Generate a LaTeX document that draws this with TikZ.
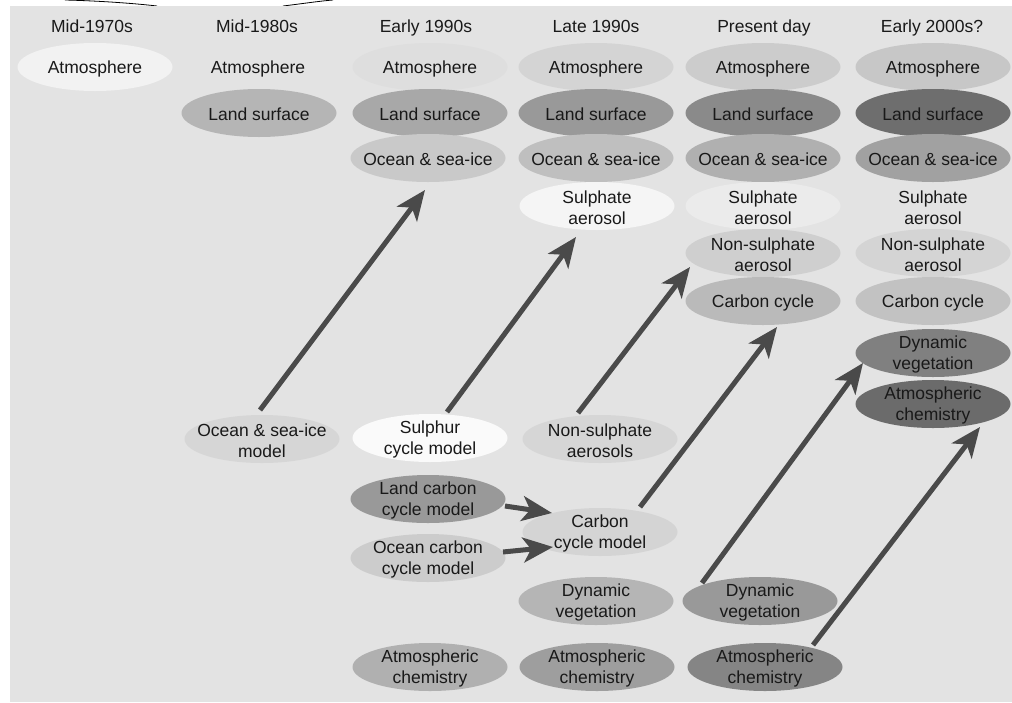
\documentclass[tikz,border=0pt]{standalone}
\usepackage{fontspec}
\setmainfont{Liberation Sans}
\usetikzlibrary{shapes.geometric,arrows.meta}
\definecolor{bg}{HTML}{E3E3E3}
\definecolor{arrcol}{HTML}{4A4A4A}
\newcommand\lblfont{\fontsize{17.5}{20.5}\selectfont}
\tikzset{
  ell/.style={ellipse, minimum width=155pt, minimum height=48pt, inner sep=0pt, label={[lbl]center:#1}},
  lbl/.style={inner sep=0pt, align=center, font=\lblfont, text=black!90, yshift=-1.5pt},
  hdr/.style={inner sep=0pt, font=\lblfont, text=black!90, anchor=base},
  arr/.style={line width=5pt, draw=arrcol, -{Stealth[length=30pt,width=25pt,inset=8pt]}},
}
\begin{document}
\begin{tikzpicture}[x=1pt,y=-1pt]
\useasboundingbox (0,0) rectangle (1012,702);
\fill[white] (0,0) rectangle (1012,702);
\draw[line width=0.8pt] (65,0) .. controls (105,1) and (140,4) .. (157,6);
\draw[line width=0.8pt] (283,6) .. controls (300,4) and (320,1) .. (333,0);
\fill[bg] (10,6) rectangle (1012,702);
% headers
\node[hdr] (h1) at (92,32) {Mid-1970s};
\node[hdr] (h2) at (257,32) {Mid-1980s};
\node[hdr] (h3) at (426,32) {Early 1990s};
\node[hdr] (h4) at (596,32) {Late 1990s};
\node[hdr] (h5) at (764,32) {Present day};
\node[hdr] (h6) at (932,32) {Early 2000s?};
% column 1
\node[ell={Atmosphere}, fill=black!5] (atm1) at (95,67) {};
% column 2
\node[ell={Atmosphere}] (atm2) at (258,67) {};
\node[ell={Land surface}, fill=black!29] (land2) at (259,113) {};
% column 3
\node[ell={Atmosphere}, fill=black!13] (atm3) at (430,67) {};
\node[ell={Land surface}, fill=black!34] (land3) at (430,113) {};
\node[ell={Ocean \& sea-ice}, fill=black!21] (ocean3) at (428,158) {};
% column 4
\node[ell={Atmosphere}, fill=black!17] (atm4) at (596,67) {};
\node[ell={Land surface}, fill=black!40] (land4) at (596,113) {};
\node[ell={Ocean \& sea-ice}, fill=black!25] (ocean4) at (596,158) {};
\node[ell={Sulphate\\aerosol}, fill=black!4] (sulph4) at (597,206) {};
% column 5
\node[ell={Atmosphere}, fill=black!20] (atm5) at (763,67) {};
\node[ell={Land surface}, fill=black!46] (land5) at (763,113) {};
\node[ell={Ocean \& sea-ice}, fill=black!31] (ocean5) at (763,158) {};
\node[ell={Sulphate\\aerosol}, fill=black!8] (sulph5) at (763,206) {};
\node[ell={Non-sulphate\\aerosol}, fill=black!19] (nsa5) at (763,253) {};
\node[ell={Carbon cycle}, fill=black!27] (carb5) at (763,301) {};
% column 6
\node[ell={Atmosphere}, fill=black!22] (atm6) at (933,67) {};
\node[ell={Land surface}, fill=black!57] (land6) at (933,113) {};
\node[ell={Ocean \& sea-ice}, fill=black!37] (ocean6) at (933,158) {};
\node[ell={Sulphate\\aerosol}] (sulph6) at (933,206) {};
\node[ell={Non-sulphate\\aerosol}, fill=black!17] (nsa6) at (933,253) {};
\node[ell={Carbon cycle}, fill=black!24] (carb6) at (933,301) {};
\node[ell={Dynamic\\vegetation}, fill=black!50] (dv6) at (933,353) {};
\node[ell={Atmospheric\\chemistry}, fill=black!58] (ac6) at (933,404) {};
% lower models
\node[ell={Ocean \& sea-ice\\model}, fill=black!16] (osim) at (262,439) {};
\node[ell={Sulphur\\cycle model}, fill=black!2] (sulphur) at (430,438) {};
\node[ell={Non-sulphate\\aerosols}, fill=black!16] (nsa4) at (600,439) {};
\node[ell={Land carbon\\cycle model}, fill=black!40] (lcc) at (428,499) {};
\node[ell={Ocean carbon\\cycle model}, fill=black!20] (occ) at (428,558) {};
\node[ell={Carbon\\cycle model}, fill=black!17] (ccm) at (600,532) {};
\node[ell={Dynamic\\vegetation}, fill=black!29] (dv4) at (596,601) {};
\node[ell={Dynamic\\vegetation}, fill=black!40] (dv5) at (760,601) {};
\node[ell={Atmospheric\\chemistry}, fill=black!31] (ac3) at (430,667) {};
\node[ell={Atmospheric\\chemistry}, fill=black!38] (ac4) at (597,667) {};
\node[ell={Atmospheric\\chemistry}, fill=black!48] (ac5) at (765,667) {};
% arrows
\draw[arr] ([shift={(-2,-29)}]osim.center) -- ([shift={(-3,32)}]ocean3.center);
\draw[arr] ([shift={(17,-26)}]sulphur.center) -- ([shift={(-21,31)}]sulph4.center);
\draw[arr] ([shift={(-22,-26)}]nsa4.center) -- ([shift={(-73,14)}]nsa5.center);
\draw[arr] ([shift={(40,-25)}]ccm.center) -- ([shift={(14,26)}]carb5.center);
\draw[arr] ([shift={(-58,-18)}]dv5.center) -- ([shift={(-70,10)}]dv6.center);
\draw[arr] ([shift={(48,-22)}]ac5.center) -- ([shift={(47,23)}]ac6.center);
\draw[arr] ([shift={(77,7)}]lcc.center) -- ([shift={(-48,-19)}]ccm.center);
\draw[arr] ([shift={(75,-6)}]occ.center) -- ([shift={(-47,15)}]ccm.center);
\end{tikzpicture}
\end{document}
